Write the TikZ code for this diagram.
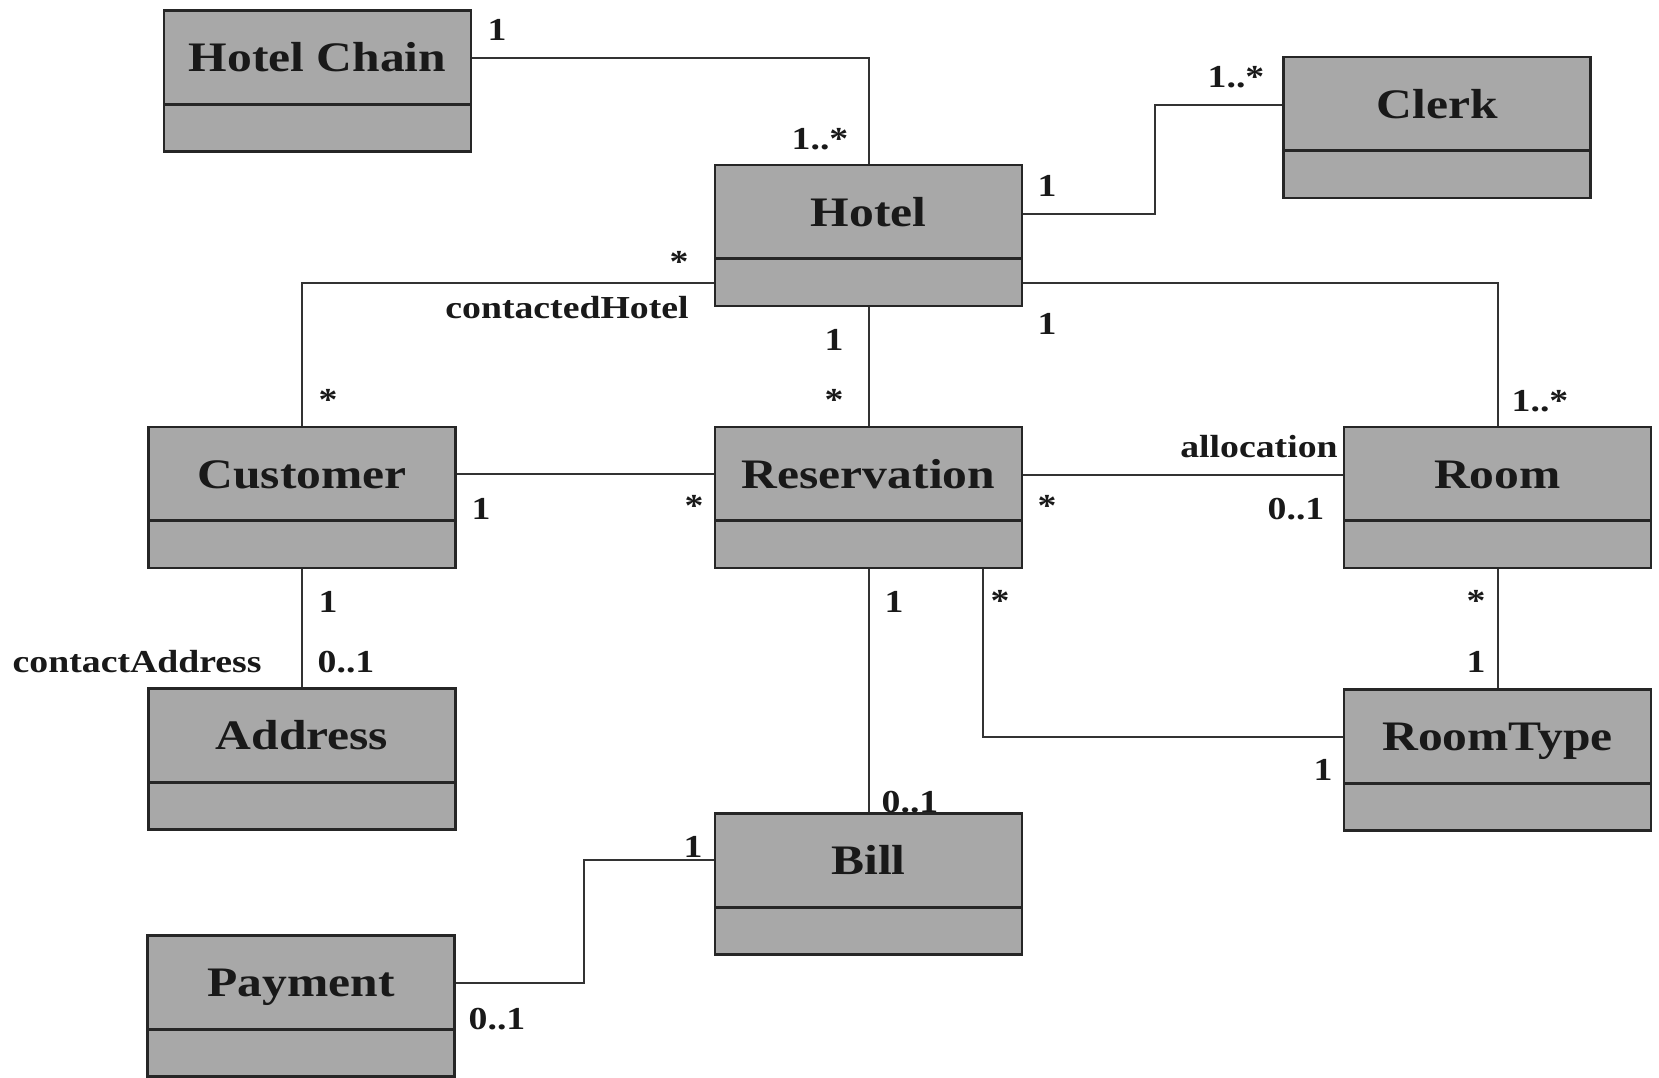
\documentclass[tikz,border=0pt]{standalone}
\usepackage{fontspec}
\setmainfont[FakeStretch=1.18]{Liberation Serif}
\definecolor{clsfill}{gray}{0.66}
\begin{document}
\begin{tikzpicture}[x=0.5pt,y=-0.5pt,
  cls/.style={draw=black!85, line width=1.3pt, fill=clsfill,
    minimum width=153.5pt, inner sep=0pt, text height=30.5pt, text depth=40pt,
    font=\fontsize{21}{24}\selectfont\bfseries, text=black!90,
    path picture={\draw[line width=1.5pt, black!85]
      ([yshift=-46.75pt]path picture bounding box.north west) --
      ([yshift=-46.75pt]path picture bounding box.north east);}},
  mult/.style={font=\fontsize{16}{19}\selectfont\bfseries, inner sep=0pt,
    text height=11pt, text depth=0pt, text=black!90},
  star/.style={mult, yshift=-2.5pt},
  assoc/.style={draw=black!80, line width=1pt}]
\useasboundingbox (0,0) rectangle (1659,1077);
\fill[white] (0,0) rectangle (1659,1077);

% classes
\node[cls] (chain) at (317.5,81) {Hotel Chain};
\node[cls] (hotel) at (868.5,235.5) {Hotel};
\node[cls] (clerk) at (1437,127.5) {Clerk};
\node[cls] (customer) at (302,497.5) {Customer};
\node[cls] (reservation) at (868.5,497.5) {Reservation};
\node[cls] (room) at (1497.5,497.5) {Room};
\node[cls] (roomtype) at (1497.5,760) {RoomType};
\node[cls] (address) at (302,759) {Address};
\node[cls] (bill) at (868.5,884) {Bill};
\node[cls] (payment) at (301,1006) {Payment};

% associations
\draw[assoc] ([yshift=11.5pt]chain.east) -| (hotel.north);
\draw[assoc] ([yshift=11pt]hotel.east) -- ++(132,0) |- ([yshift=11.5pt]clerk.west);
\draw[assoc] ([yshift=-23.5pt]hotel.west) -| (customer.north);
\draw[assoc] ([yshift=-23.5pt]hotel.east) -| (room.north);
\draw[assoc] (hotel.south) -- (reservation.north);
\draw[assoc] ([yshift=11.75pt]customer.east) -- ([yshift=11.75pt]reservation.west);
\draw[assoc] ([yshift=11.5pt]reservation.east) -- ([yshift=11.5pt]room.west);
\draw[assoc] ([xshift=57.25pt]reservation.south) |- ([yshift=11.5pt]roomtype.west);
\draw[assoc] (room.south) -- (roomtype.north);
\draw[assoc] (customer.south) -- (address.north);
\draw[assoc] (reservation.south) -- (bill.north);
\draw[assoc] ([yshift=12pt]bill.west) -- ++(-130,0) |- ([yshift=11.5pt]payment.east);

% multiplicities and role names
\node[mult] (l1) at (497,29) {1};
\node[mult] (l2) at (820,138) {1..*};
\node[mult] (l3) at (1236,76) {1..*};
\node[mult] (l4) at (1047,185) {1};
\node[star] (l5) at (679,256) {*};
\node[mult] (l6) at (567,307) {contactedHotel};
\node[mult] (l7) at (834,339) {1};
\node[mult] (l8) at (1047,323) {1};
\node[star] (l9) at (328,394) {*};
\node[star] (l10) at (834,394) {*};
\node[mult] (l11) at (1540,400) {1..*};
\node[mult, anchor=east] (l12) at (1338,446) {allocation};
\node[mult] (l13) at (481,508) {1};
\node[star] (l14) at (694,500) {*};
\node[star] (l15) at (1047,500) {*};
\node[mult] (l16) at (1296,508) {0..1};
\node[mult] (l17) at (328,601) {1};
\node[mult] (l18) at (894,601) {1};
\node[star] (l19) at (1000,595) {*};
\node[star] (l20) at (1476,595) {*};
\node[mult, anchor=east] (l21) at (262,661) {contactAddress};
\node[mult] (l22) at (346,661) {0..1};
\node[mult] (l23) at (1476,661) {1};
\node[mult] (l24) at (1323,769) {1};
\node[mult] (l25) at (910,801) {0..1};
\node[mult] (l26) at (693,846) {1};
\node[mult] (l27) at (497,1018) {0..1};
\end{tikzpicture}
\end{document}
